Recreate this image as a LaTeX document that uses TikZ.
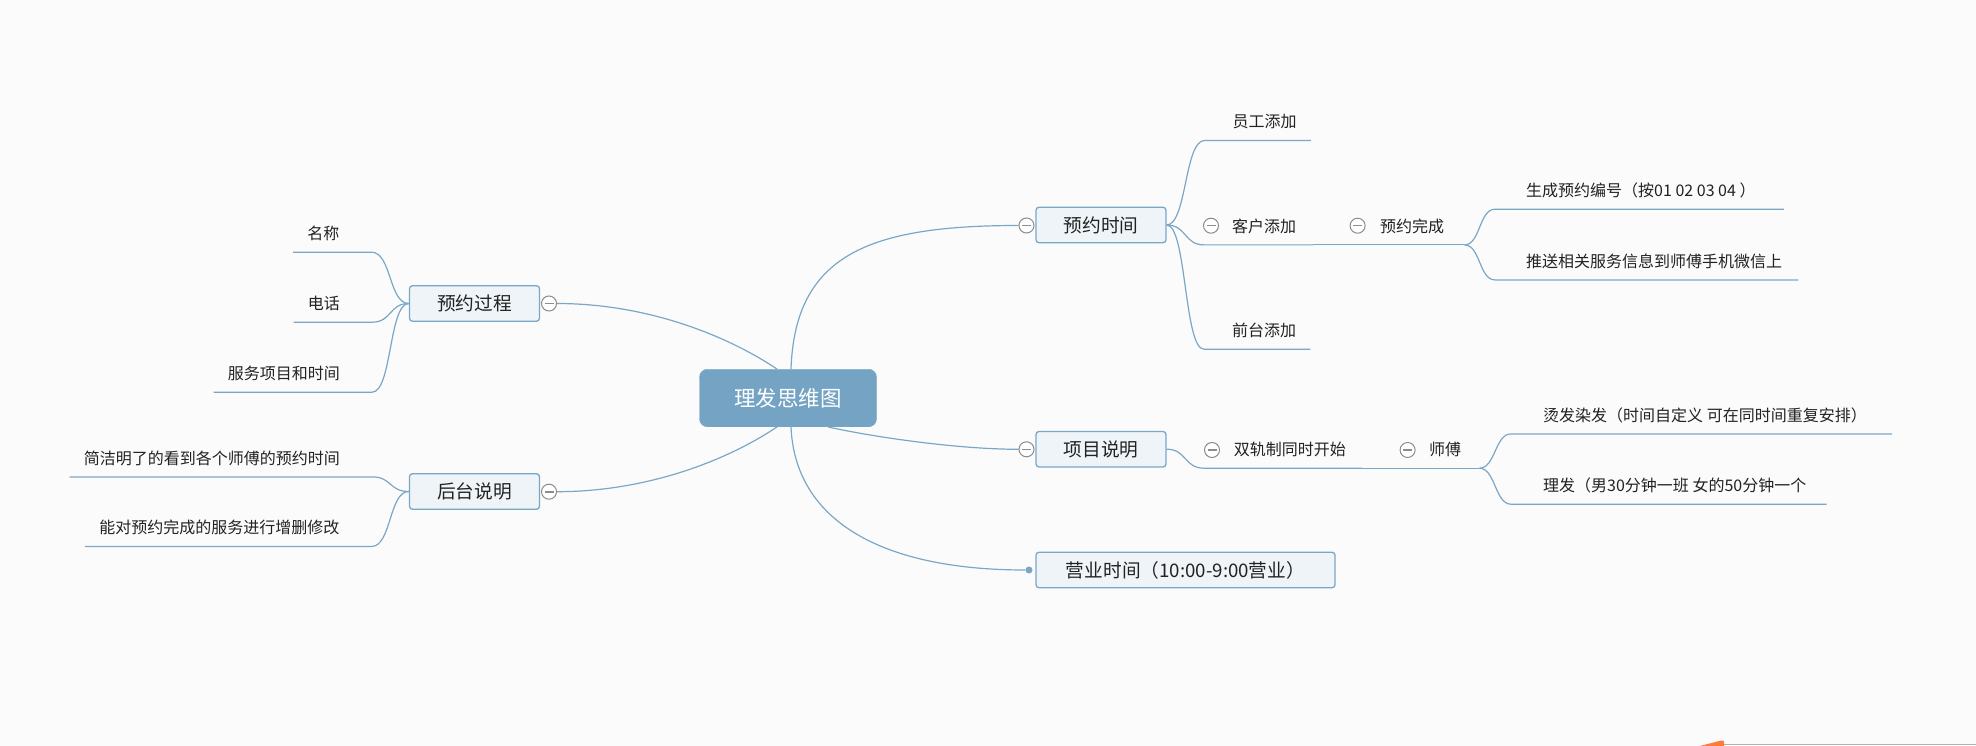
\documentclass[tikz,border=0pt]{standalone}
\usepackage{fontspec}
\setmainfont{Noto Sans CJK SC}
\usepackage{tikz}
\usetikzlibrary{calc}
\definecolor{linec}{HTML}{7BA7C7}
\definecolor{rootc}{HTML}{74A3C3}
\definecolor{boxc}{HTML}{EEF4F8}
\definecolor{foldc}{HTML}{8C8C8C}
\definecolor{bgc}{HTML}{FBFBFB}
\definecolor{textc}{HTML}{222222}
\definecolor{markc}{HTML}{FF7A3D}
\tikzstyle{rootnode} = [rectangle,
rounded corners=8pt,
minimum width=177pt,
minimum height=57.5pt,
text centered,
fill=rootc,
draw=rootc,
text=white,
font=\fontsize{21.5pt}{24pt}\selectfont]
\tikzstyle{topic} = [rectangle,
rounded corners=3pt,
minimum width=130pt,
minimum height=35.5pt,
inner xsep=0pt,
text centered,
line width=1.3pt,
draw=linec,
fill=boxc,
text=textc,
font=\fontsize{18.7pt}{21pt}\selectfont]
\tikzstyle{leafr} = [anchor=west, inner xsep=0pt, inner ysep=0pt,
minimum height=36pt, text height=13.6pt, text depth=2.4pt,
text=textc, font=\fontsize{16pt}{18pt}\selectfont]
\tikzstyle{leafl} = [leafr, anchor=east]
\tikzstyle{fold} = [circle, draw=foldc, fill=white, line width=1pt,
minimum size=15pt, inner sep=0pt,
path picture={\draw [foldc, line width=1.6pt] ([xshift=-4.5pt]path picture bounding box.center) -- ([xshift=4.5pt]path picture bounding box.center);}]
\tikzstyle{dot} = [circle, fill=linec, minimum size=7pt, inner sep=0pt]
\tikzstyle{branch} = [line width=1.2pt, draw=linec]
\begin{document}
\begin{tikzpicture}
    \fill [bgc] (0pt,0pt) rectangle (1976pt,-746pt);
    \useasboundingbox (0pt,0pt) rectangle (1976pt,-746pt);

    \node (root) [rootnode, xshift=788pt, yshift=-398pt] {理发思维图};

    \node (booktime) [topic, xshift=1101pt, yshift=-225pt] {预约时间};
    \node (items) [topic, xshift=1101pt, yshift=-449.2pt] {项目说明};
    \node (hours) [topic, minimum width=299pt, xshift=1185.5pt, yshift=-570pt] {营业时间（10:00-9:00营业）};
    \node (process) [topic, xshift=474.5pt, yshift=-303.5pt] {预约过程};
    \node (backend) [topic, xshift=474.5pt, yshift=-491.5pt] {后台说明};

    \node (fbook) [fold, xshift=1026.5pt, yshift=-225.5pt] {};
    \node (fitems) [fold, xshift=1026.5pt, yshift=-449.3pt] {};
    \node (fprocess) [fold, xshift=549pt, yshift=-303.5pt] {};
    \node (fbackend) [fold, xshift=549pt, yshift=-491.7pt] {};
    \node (dhours) [dot, xshift=1029pt, yshift=-570pt] {};

    \node (staff) [leafr, xshift=1232.5pt, yshift=-122.3pt] {员工添加};
    \node (customer) [leafr, xshift=1232pt, yshift=-226.7pt] {客户添加};
    \node (desk) [leafr, xshift=1232pt, yshift=-331pt] {前台添加};
    \node (done) [leafr, xshift=1380pt, yshift=-226.7pt] {预约完成};
    \node (number) [leafr, xshift=1526pt, yshift=-191pt] {生成预约编号（按01 02 03 04 ）};
    \node (push) [leafr, xshift=1526pt, yshift=-261.7pt] {推送相关服务信息到师傅手机微信上};
    \node (fcustomer) [fold, xshift=1211pt, yshift=-225.7pt] {};
    \node (fdone) [fold, xshift=1357.6pt, yshift=-225.7pt] {};

    \node (dual) [leafr, xshift=1233.6pt, yshift=-450pt] {双轨制同时开始};
    \node (master) [leafr, xshift=1429pt, yshift=-450pt] {师傅};
    \node (perm) [leafr, xshift=1543pt, yshift=-415.7pt] {烫发染发（时间自定义 可在同时间重复安排）};
    \node (cut) [leafr, xshift=1543pt, yshift=-486pt] {理发（男30分钟一班 女的50分钟一个};
    \node (fdual) [fold, xshift=1212pt, yshift=-450pt] {};
    \node (fmaster) [fold, xshift=1407.6pt, yshift=-450pt] {};

    \node (name) [leafl, xshift=339.5pt, yshift=-234pt] {名称};
    \node (phone) [leafl, xshift=340pt, yshift=-304pt] {电话};
    \node (service) [leafl, xshift=340pt, yshift=-374pt] {服务项目和时间};
    \node (view) [leafl, xshift=340pt, yshift=-458.7pt] {简洁明了的看到各个师傅的预约时间};
    \node (edit) [leafl, xshift=339.5pt, yshift=-528.3pt] {能对预约完成的服务进行增删修改};

    % Main branches
    \draw [branch] ([xshift=3pt]root.north) .. controls +(4pt,114pt) and +(-150pt,0pt) .. (fbook.west);
    \draw [branch] ([xshift=-11pt]root.north) .. controls +(-50pt,33.5pt) and +(90pt,0pt) .. (fprocess.east);
    \draw [branch] ([xshift=-11pt]root.south) .. controls +(-50pt,-33.5pt) and +(90pt,0pt) .. (fbackend.east);
    \draw [branch] ([xshift=3pt]root.south) .. controls +(4pt,-93pt) and +(-145pt,0pt) .. (dhours.west);
    \draw [branch] ([xshift=40pt]root.south) .. controls +(50pt,-11pt) and +(-58pt,0pt) .. (fitems.west);

    % Booking time
    \draw [branch] (booktime.east) .. controls +(20pt,0pt) and +(-20pt,0pt) .. ([xshift=-28pt]staff.south west) -- ([xshift=14pt]staff.south east);
    \draw [branch] (booktime.east) .. controls +(20pt,0pt) and +(-20pt,0pt) .. ([xshift=-28pt]customer.south west) -- ([xshift=17pt]customer.south east);
    \draw [branch] (booktime.east) .. controls +(20pt,0pt) and +(-20pt,0pt) .. ([xshift=-28pt]desk.south west) -- ([xshift=14pt]desk.south east);
    \draw [branch] ([xshift=17pt]customer.south east) -- ([xshift=20pt]done.south east);
    \draw [branch] ([xshift=20pt]done.south east) .. controls +(16pt,0pt) and +(-16pt,0pt) .. ([xshift=-31pt]number.south west) -- ([xshift=28pt]number.south east);
    \draw [branch] ([xshift=20pt]done.south east) .. controls +(16pt,0pt) and +(-16pt,0pt) .. ([xshift=-31pt]push.south west) -- ([xshift=16pt]push.south east);

    % Items
    \draw [branch] (items.east) .. controls +(20pt,0pt) and +(-20pt,0pt) .. ([xshift=-29.6pt]dual.south west) -- ([xshift=16pt]dual.south east);
    \draw [branch] ([xshift=16pt]dual.south east) -- ([xshift=18pt]master.south east);
    \draw [branch] ([xshift=18pt]master.south east) .. controls +(16pt,0pt) and +(-16pt,0pt) .. ([xshift=-32pt]perm.south west) -- ([xshift=25pt]perm.south east);
    \draw [branch] ([xshift=18pt]master.south east) .. controls +(16pt,0pt) and +(-16pt,0pt) .. ([xshift=-32pt]cut.south west) -- ([xshift=20pt]cut.south east);

    % Left side
    \draw [branch] (process.west) .. controls +(-20pt,0pt) and +(20pt,0pt) .. ([xshift=32pt]name.south east) -- ([xshift=-14pt]name.south west);
    \draw [branch] (process.west) .. controls +(-20pt,0pt) and +(20pt,0pt) .. ([xshift=32pt]phone.south east) -- ([xshift=-14pt]phone.south west);
    \draw [branch] (process.west) .. controls +(-20pt,0pt) and +(20pt,0pt) .. ([xshift=32pt]service.south east) -- ([xshift=-14pt]service.south west);
    \draw [branch] (backend.west) .. controls +(-20pt,0pt) and +(20pt,0pt) .. ([xshift=32pt]view.south east) -- ([xshift=-14pt]view.south west);
    \draw [branch] (backend.west) .. controls +(-20pt,0pt) and +(20pt,0pt) .. ([xshift=32pt]edit.south east) -- ([xshift=-14pt]edit.south west);

    % Scroll mark
    \fill [markc] (1700pt,-746pt) -- (1721pt,-740.5pt) -- (1724pt,-741pt) -- (1724pt,-746pt) -- cycle;
    \draw [gray!60, line width=1pt] (1724pt,-744pt) -- (1976pt,-744pt);
  \end{tikzpicture}
\end{document}
